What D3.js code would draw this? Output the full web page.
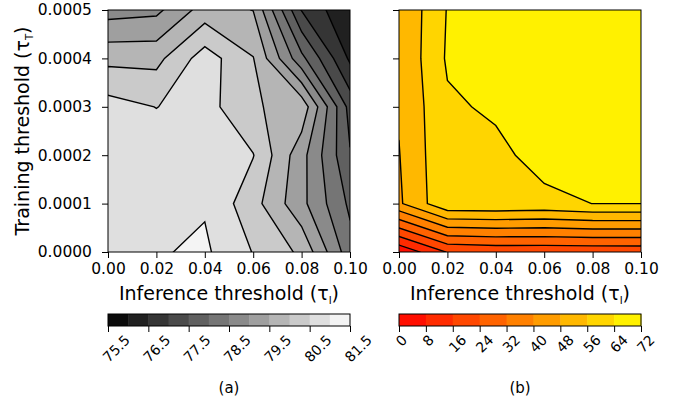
<!DOCTYPE html>
<html>
<head>
<meta charset="utf-8">
<script src="https://cdn.jsdelivr.net/npm/d3@7"></script>
<style>
body { margin: 0; background: #fff; }
text { font-family: "DejaVu Sans", sans-serif; }
</style>
</head>
<body>
<div id="container"></div>
<script>
//svg size
const w = 683
const h = 407

//grid axes
const xVals = [0, 0.02, 0.04, 0.06, 0.08, 0.1]
const yVals = [0, 0.0001, 0.0002, 0.0003, 0.0004, 0.0005]

//(a) accuracy, one row per training threshold (bottom row first)
const accRow0 = [80.75, 80.955, 81.083, 80.48, 79.9, 78.2]
const accRow1 = [80.8, 80.85, 80.95, 80.19, 79.14, 77.9]
const accRow2 = [80.8, 80.8, 80.8, 80.52, 79.18, 77.54]
const accRow3 = [80.7, 80.49, 80.71, 80.04, 79.85, 77.31]
const accRow4 = [79.86, 79.85, 80.75, 80.02, 78.14, 76.41]
const accRow5 = [78.79, 78.88, 79.72, 79.49, 76.98, 76.03]

//(b) second measure, same layout
const redRow0 = [1.5, 16.5, 18, 18, 18.2, 18.3]
const redRow1 = [46.8, 62.5, 62.8, 62, 64.05, 64.05]
const redRow2 = [47.7, 62.8, 62.1, 66.8, 67.5, 68]
const redRow3 = [48.7, 62.8, 65.2, 67.5, 68, 68.5]
const redRow4 = [48.6, 65, 67, 68, 68.5, 69]
const redRow5 = [48.5, 64.4, 67, 68, 69, 69]

//contour levels and colorbar ticks
const levelsA = [75.5, 76, 76.5, 77, 77.5, 78, 78.5, 79, 79.5, 80, 80.5, 81, 81.5]
const cbTicksA = [75.5, 76.5, 77.5, 78.5, 79.5, 80.5, 81.5]
const levelsB = [0, 8, 16, 24, 32, 40, 48, 56, 64, 72]
const cbTicksB = [0, 8, 16, 24, 32, 40, 48, 56, 64, 72]

//layout
const plotTop = 10
const plotSize = 242
const cbTop = 314
const cbH = 12

//colormaps (matplotlib gray and autumn)
const grayMap = t => d3.rgb(255 * t, 255 * t, 255 * t).toString()
const autumnMap = t => d3.rgb(255, 255 * t, 0).toString()

const svg = d3.select('#container')
    .append('svg')
    .attr('width', w)
    .attr('height', h)

function panel(left, rows, levels, cmap, cbTicks, showYLabels, tag) {
    const x = d3.scaleLinear().domain([0, 0.1]).range([left, left + plotSize])
    const y = d3.scaleLinear().domain([0, 0.0005]).range([plotTop + plotSize, plotTop])
    const nBins = levels.length - 1
    const binColor = k => cmap((k + 0.5) / nBins)

    //contours on the grid, grid value i sits at coordinate i + 0.5
    const values = [].concat(...rows)
    const sx = xVals[1] - xVals[0]
    const sy = yVals[1] - yVals[0]
    const contours = d3.contours()
        .size([xVals.length, yVals.length])
        .thresholds(levels)(values)
    const proj = d3.geoTransform({
        point: function(px, py) {
            this.stream.point(x(xVals[0] + (px - 0.5) * sx), y(yVals[0] + (py - 0.5) * sy))
        }
    })
    const path = d3.geoPath(proj)

    const clipId = 'clip-' + tag
    svg.append('clipPath').attr('id', clipId)
        .append('rect')
        .attr('x', left).attr('y', plotTop)
        .attr('width', plotSize).attr('height', plotSize)

    const g = svg.append('g').attr('clip-path', 'url(#' + clipId + ')')

    //filled bands
    g.selectAll('path.band')
        .data(contours.slice(0, nBins))
        .enter()
        .append('path')
        .attr('class', 'band')
        .attr('d', path)
        .attr('fill', (d, i) => binColor(i))
        .attr('stroke', (d, i) => binColor(i))
        .attr('stroke-width', 0.5)

    //contour lines
    g.selectAll('path.line')
        .data(contours.slice(1, nBins))
        .enter()
        .append('path')
        .attr('class', 'line')
        .attr('d', path)
        .attr('fill', 'none')
        .attr('stroke', '#000')
        .attr('stroke-width', 1.4)

    //frame
    svg.append('rect')
        .attr('x', left).attr('y', plotTop)
        .attr('width', plotSize).attr('height', plotSize)
        .attr('fill', 'none')
        .attr('stroke', '#000')
        .attr('stroke-width', 1)

    //axes
    const xAxis = svg.append('g')
        .attr('transform', 'translate(0,' + (plotTop + plotSize) + ')')
        .call(d3.axisBottom(x).tickValues(xVals).tickFormat(d3.format('.2f')).tickSize(6).tickPadding(5))
    xAxis.select('.domain').remove()
    xAxis.selectAll('text').attr('font-size', 15.5).attr('fill', '#000')

    const yAxis = svg.append('g')
        .attr('transform', 'translate(' + left + ',0)')
        .call(d3.axisLeft(y).tickValues(yVals)
            .tickFormat(showYLabels ? d3.format('.4f') : '')
            .tickSize(6).tickPadding(10))
    yAxis.select('.domain').remove()
    yAxis.selectAll('text').attr('font-size', 15.5).attr('fill', '#000')

    //x label
    const xl = svg.append('text')
        .attr('x', left + plotSize / 2)
        .attr('y', 300)
        .attr('text-anchor', 'middle')
        .attr('font-size', 19)
    xl.append('tspan').text('Inference threshold (τ')
    xl.append('tspan').attr('font-size', 10).attr('dy', 4).text('I')
    xl.append('tspan').attr('dy', -4).text(')')

    //colorbar
    const cb = d3.scaleLinear().domain([levels[0], levels[nBins]]).range([left, left + plotSize])
    svg.selectAll('rect.cb-' + tag)
        .data(d3.range(nBins))
        .enter()
        .append('rect')
        .attr('class', 'cb-' + tag)
        .attr('x', k => cb(levels[k]))
        .attr('y', cbTop)
        .attr('width', k => cb(levels[k + 1]) - cb(levels[k]) + 0.5)
        .attr('height', cbH)
        .attr('fill', k => binColor(k))
    svg.append('rect')
        .attr('x', left).attr('y', cbTop)
        .attr('width', plotSize).attr('height', cbH)
        .attr('fill', 'none')
        .attr('stroke', '#000')
        .attr('stroke-width', 1)

    const cbAxis = svg.append('g')
        .attr('transform', 'translate(0,' + (cbTop + cbH) + ')')
        .call(d3.axisBottom(cb).tickValues(cbTicks).tickFormat('').tickSize(6))
    cbAxis.select('.domain').remove()

    //rotated colorbar labels
    cbTicks.forEach(function(v) {
        const t = svg.append('text')
            .attr('font-size', 14)
            .attr('text-anchor', 'middle')
            .attr('dy', '0.35em')
            .text(d3.format('')(v))
        const len = t.node().getComputedTextLength()
        const side = (len + 10) * 0.7071
        t.attr('transform', 'translate(' + (cb(v) + 0.27 * len) + ',' + (cbTop + cbH + 8 + side / 2) + ') rotate(-45)')
    })

    //panel tag
    svg.append('text')
        .attr('x', left + plotSize / 2)
        .attr('y', 393)
        .attr('text-anchor', 'middle')
        .attr('font-size', 15)
        .text('(' + tag + ')')
}

panel(108, [accRow0, accRow1, accRow2, accRow3, accRow4, accRow5], levelsA, grayMap, cbTicksA, true, 'a')
panel(399, [redRow0, redRow1, redRow2, redRow3, redRow4, redRow5], levelsB, autumnMap, cbTicksB, false, 'b')

//y label
const yl = svg.append('text')
    .attr('transform', 'translate(29,131) rotate(-90)')
    .attr('text-anchor', 'middle')
    .attr('font-size', 19)
yl.append('tspan').text('Training threshold (τ')
yl.append('tspan').attr('font-size', 10).attr('dy', 4).text('T')
yl.append('tspan').attr('dy', -4).text(')')
</script>
</body>
</html>
